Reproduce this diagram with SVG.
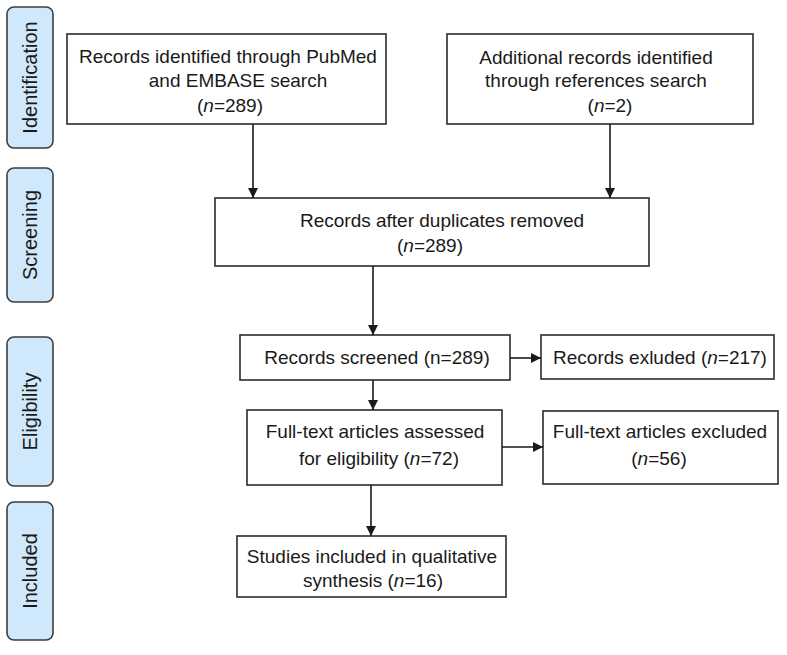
<svg xmlns="http://www.w3.org/2000/svg" width="787" height="655" viewBox="0 0 787 655">
<style>
  .box { fill: #ffffff; stroke: #2b2b2b; stroke-width: 1.6; }
  .phase { fill: #cfe8fb; stroke: #3c3c3c; stroke-width: 1.6; }
  .t { font-family: "Liberation Sans", Arial, sans-serif; font-size: 19px; fill: #1a1a1a; text-anchor: middle; }
  .p { font-family: "Liberation Sans", Arial, sans-serif; font-size: 20px; fill: #1a1a1a; text-anchor: middle; }
  .i { font-style: italic; }
  .c { stroke: #1a1a1a; stroke-width: 1.6; fill: none; marker-end: url(#ah); }
</style>
<defs>
  <marker id="ah" viewBox="0 0 10 10" refX="10" refY="5" markerWidth="10" markerHeight="11" markerUnits="userSpaceOnUse" orient="auto">
    <path d="M0,0 L10,5 L0,10 z" fill="#1a1a1a"/>
  </marker>
</defs>
<rect width="787" height="655" fill="#ffffff"/>

<g id="phase-identification">
  <rect class="phase" x="7" y="7" width="46" height="141" rx="7"/>
  <text class="p" transform="translate(37,77.5) rotate(-90)">Identification</text>
</g>
<g id="phase-screening">
  <rect class="phase" x="7" y="168" width="46" height="134" rx="7"/>
  <text class="p" transform="translate(37,235) rotate(-90)">Screening</text>
</g>
<g id="phase-eligibility">
  <rect class="phase" x="7" y="337" width="46" height="149" rx="7"/>
  <text class="p" transform="translate(37,411.5) rotate(-90)">Eligibility</text>
</g>
<g id="phase-included">
  <rect class="phase" x="7" y="502" width="46" height="138" rx="7"/>
  <text class="p" transform="translate(37,571) rotate(-90)">Included</text>
</g>

<g id="n-pubmed">
  <rect class="box" x="67" y="34" width="319" height="90"/>
  <text class="t" x="228" y="63">Records identified through PubMed</text>
  <text class="t" x="238" y="87">and EMBASE search</text>
  <text class="t" x="230" y="112">(<tspan class="i">n</tspan>=289)</text>
</g>
<g id="n-additional">
  <rect class="box" x="447" y="34" width="306" height="90"/>
  <text class="t" x="596" y="64">Additional records identified</text>
  <text class="t" x="596" y="87">through references search</text>
  <text class="t" x="610" y="112">(<tspan class="i">n</tspan>=2)</text>
</g>
<g id="n-duplicates">
  <rect class="box" x="215" y="198" width="434" height="68"/>
  <text class="t" x="442" y="227">Records after duplicates removed</text>
  <text class="t" x="430" y="252">(<tspan class="i">n</tspan>=289)</text>
</g>
<g id="n-screened">
  <rect class="box" x="240" y="335" width="270" height="45"/>
  <text class="t" x="377" y="364">Records screened (n=289)</text>
</g>
<g id="n-excluded">
  <rect class="box" x="541" y="335" width="233" height="44"/>
  <text class="t" x="660" y="364">Records exluded (<tspan class="i">n</tspan>=217)</text>
</g>
<g id="n-fulltext">
  <rect class="box" x="247" y="410" width="255" height="75"/>
  <text class="t" x="375" y="438">Full-text articles assessed</text>
  <text class="t" x="379" y="465">for eligibility (<tspan class="i">n</tspan>=72)</text>
</g>
<g id="n-fulltext-excluded">
  <rect class="box" x="543" y="411" width="235" height="73"/>
  <text class="t" x="660" y="438">Full-text articles excluded</text>
  <text class="t" x="659" y="465">(<tspan class="i">n</tspan>=56)</text>
</g>
<g id="n-included">
  <rect class="box" x="237" y="536" width="269" height="61"/>
  <text class="t" x="372" y="563">Studies included in qualitative</text>
  <text class="t" x="373" y="587">synthesis (<tspan class="i">n</tspan>=16)</text>
</g>

<g id="connectors">
  <line class="c" x1="253" y1="124" x2="253" y2="198"/>
  <line class="c" x1="610" y1="124" x2="610" y2="198"/>
  <line class="c" x1="373" y1="266" x2="373" y2="335"/>
  <line class="c" x1="510" y1="358" x2="541" y2="358"/>
  <line class="c" x1="373" y1="380" x2="373" y2="410"/>
  <line class="c" x1="502" y1="447" x2="543" y2="447"/>
  <line class="c" x1="371" y1="485" x2="371" y2="536"/>
</g>
</svg>
